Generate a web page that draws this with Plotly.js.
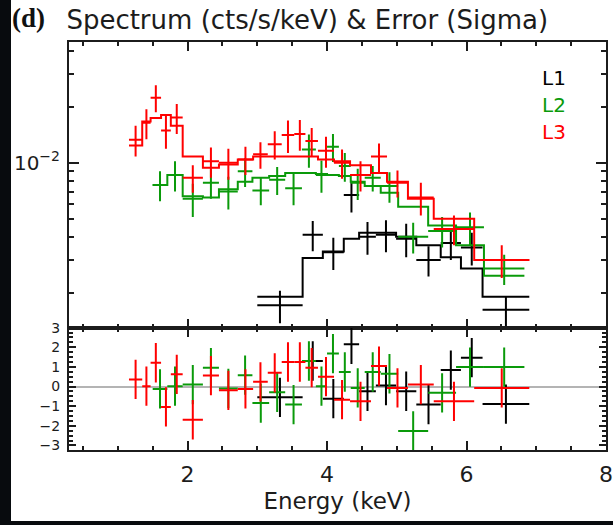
<!DOCTYPE html>
<html>
<head>
<meta charset="utf-8">
<script src="https://cdn.plot.ly/plotly-3.0.1.min.js"></script>
<style>
  html, body { margin: 0; padding: 0; width: 613px; height: 525px; overflow: hidden; background: #080b0e; }
  #chart { position: absolute; left: 11px; top: 0; width: 602px; height: 521px; background: #fff; }
</style>
</head>
<body>
<div id="chart"></div>
<script>
// ---- L1 spectrum (black): bin edges (keV), rate (cts/s/keV), 1-sigma error, model, residual (sigma)
const edgesL1 = [3.00, 3.65, 3.94, 4.24, 4.46, 4.70, 4.99, 5.28, 5.63, 5.92, 6.23, 6.90];
const rateL1  = [0.00171, 0.0041, 0.0033, 0.0067, 0.0040, 0.0041, 0.0039, 0.0030, 0.0037, 0.0035, 0.00162];
const errL1   = [0.00034, 0.00076, 0.00065, 0.0013, 0.0008, 0.0008, 0.0008, 0.00056, 0.0007, 0.0007, 0.0003];
const modelL1 = [0.0019, 0.00307, 0.00333, 0.0039, 0.0042, 0.0042, 0.0040, 0.0036, 0.0031, 0.0027, 0.0019];
const residL1 = [-0.55, 1.30, -0.62, 2.15, -0.24, 0.05, -0.24, -0.92, 0.84, 1.47, -0.89];

// ---- L2 spectrum (green)
const edgesL2 = [1.50, 1.71, 1.93, 2.22, 2.45, 2.72, 2.93, 3.17, 3.40, 3.64, 3.84, 4.00, 4.17, 4.34, 4.54, 4.77, 5.02, 5.45, 5.85, 6.25, 6.83];
const rateL2  = [0.0076, 0.0086, 0.0064, 0.0078, 0.0070, 0.0090, 0.0071, 0.0081, 0.0073, 0.0118, 0.0086, 0.0122, 0.0096, 0.0078, 0.0083, 0.0075, 0.0040, 0.0043, 0.0045, 0.0027];
const errL2   = [0.0014, 0.0016, 0.0013, 0.0014, 0.0014, 0.0016, 0.0012, 0.0014, 0.0014, 0.0024, 0.0017, 0.0021, 0.0017, 0.0015, 0.0013, 0.0014, 0.00075, 0.0008, 0.0009, 0.0005];
const modelL2 = [0.0076, 0.0086, 0.0066, 0.0065, 0.0072, 0.0079, 0.0083, 0.0085, 0.0088, 0.0088, 0.0087, 0.0086, 0.0085, 0.0079, 0.0075, 0.0069, 0.0058, 0.0046, 0.0036, 0.00247];
const residL2 = [-0.12, 0.02, 0.10, 0.96, -0.10, 0.58, -0.84, -0.29, -0.92, 1.30, 0.02, 1.68, 0.74, -0.07, 0.74, 0.65, -2.26, -0.32, 0.99, 0.99];

// ---- L3 spectrum (red)
const edgesL3 = [1.16, 1.35, 1.47, 1.62, 1.76, 1.93, 2.22, 2.45, 2.72, 2.94, 3.15, 3.35, 3.53, 3.69, 3.87, 4.10, 4.33, 4.63, 4.86, 5.16, 5.53, 6.11, 6.90];
const rateL3  = [0.0133, 0.0164, 0.0224, 0.0149, 0.0175, 0.0083, 0.0102, 0.0100, 0.0104, 0.0111, 0.0126, 0.0141, 0.0143, 0.0131, 0.0116, 0.0100, 0.0086, 0.0108, 0.0078, 0.0065, 0.0044, 0.0030];
const errL3   = [0.0025, 0.0030, 0.0037, 0.0030, 0.0032, 0.0014, 0.0019, 0.0019, 0.0018, 0.0018, 0.0022, 0.0028, 0.0027, 0.0023, 0.0022, 0.0018, 0.0016, 0.0019, 0.0013, 0.0013, 0.0008, 0.0006];
const modelL3 = [0.0124, 0.0167, 0.0174, 0.0181, 0.0158, 0.0108, 0.0094, 0.0098, 0.0104, 0.0108, 0.0108, 0.0108, 0.0108, 0.0108, 0.0104, 0.0102, 0.0097, 0.0088, 0.0079, 0.0064, 0.0050, 0.0030];
const residL3 = [0.36, 0.02, 1.21, -1.04, 0.62, -1.69, 0.56, -0.19, -0.12, 0.24, 0.70, 1.25, 1.25, 0.96, 0.50, -0.67, -0.75, 1.04, -0.07, 0.10, -0.75, -0.07];

const seriesNames = ['L1', 'L2', 'L3'];
const seriesColors = ['#000000', '#0a9a0a', '#ff0000'];

const spectra = [
  { edges: edgesL1, rate: rateL1, err: errL1, model: modelL1, resid: residL1 },
  { edges: edgesL2, rate: rateL2, err: errL2, model: modelL2, resid: residL2 },
  { edges: edgesL3, rate: rateL3, err: errL3, model: modelL3, resid: residL3 }
];

const FONT = 'DejaVu Sans, Verdana, sans-serif';
const INK = '#1c1c1c';

const traces = [];
spectra.forEach((s, k) => {
  const color = seriesColors[k];
  const centers = s.rate.map((_, i) => (s.edges[i] + s.edges[i + 1]) / 2);
  const halfW = s.rate.map((_, i) => (s.edges[i + 1] - s.edges[i]) / 2);
  // folded model as a histogram over the bins
  const sx = [], sy = [];
  s.model.forEach((m, i) => { sx.push(s.edges[i], s.edges[i + 1]); sy.push(m, m); });
  traces.push({
    x: sx, y: sy, xaxis: 'x', yaxis: 'y', mode: 'lines',
    line: { color: color, width: 2 }, hoverinfo: 'skip', showlegend: false
  });
  // data: crosses made of the energy-bin and 1-sigma error bars only
  traces.push({
    x: centers, y: s.rate, xaxis: 'x', yaxis: 'y', mode: 'markers',
    marker: { size: 4, color: color, opacity: 0 }, name: seriesNames[k], showlegend: false,
    error_x: { type: 'data', array: halfW, visible: true, width: 0, thickness: 2, color: color },
    error_y: { type: 'data', array: s.err, visible: true, width: 0, thickness: 2, color: color }
  });
  // residuals in units of sigma
  traces.push({
    x: centers, y: s.resid, xaxis: 'x2', yaxis: 'y2', mode: 'markers',
    marker: { size: 4, color: color, opacity: 0 }, showlegend: false,
    error_x: { type: 'data', array: halfW, visible: true, width: 0, thickness: 2, color: color },
    error_y: { type: 'constant', value: 1, visible: true, width: 0, thickness: 2, color: color }
  });
});

const axisLine = { showline: true, linecolor: INK, linewidth: 2, mirror: 'allticks', showgrid: false, zeroline: false };

const xCommon = Object.assign({}, axisLine, {
  range: [0.3, 8.0], tick0: 0, dtick: 2, ticks: 'inside', ticklen: 9, tickwidth: 2, tickcolor: INK,
  minor: { dtick: 0.5, ticks: 'inside', ticklen: 4, tickwidth: 2, tickcolor: INK }
});

const layout = {
  width: 602, height: 521,
  margin: { l: 58, r: 7, t: 42, b: 71 },
  paper_bgcolor: '#ffffff', plot_bgcolor: '#ffffff',
  font: { family: FONT, color: INK },
  showlegend: false,
  title: {
    text: 'Spectrum (cts/s/keV) & Error (Sigma)',
    font: { family: FONT, size: 26, color: INK },
    x: 0.092, xanchor: 'left', xref: 'container',
    y: 0.962, yanchor: 'middle', yref: 'container'
  },
  xaxis: Object.assign({}, xCommon, { domain: [0, 1], anchor: 'y', showticklabels: false }),
  xaxis2: Object.assign({}, xCommon, {
    domain: [0, 1], anchor: 'y2', matches: 'x', showticklabels: true,
    tickfont: { family: FONT, size: 22, color: INK }, ticklabelstandoff: 4,
    title: { text: 'Energy (keV)', font: { family: FONT, size: 23, color: INK }, standoff: 6 }
  }),
  yaxis: Object.assign({}, axisLine, {
    domain: [0.30, 1], anchor: 'x', type: 'log', range: [-2.887, -1.35],
    tickmode: 'array', tickvals: [0.01], ticktext: ['10<sup>\u22122</sup>'],
    ticks: 'inside', ticklen: 10, tickwidth: 2, tickcolor: INK,
    tickfont: { family: FONT, size: 20, color: INK }, ticklabelstandoff: 3,
    minor: {
      tickmode: 'array',
      tickvals: [0.002, 0.003, 0.004, 0.005, 0.006, 0.007, 0.008, 0.009, 0.02, 0.03, 0.04],
      ticks: 'inside', ticklen: 5, tickwidth: 2, tickcolor: INK
    }
  }),
  yaxis2: Object.assign({}, axisLine, {
    domain: [0, 0.30], anchor: 'x2', range: [-3.23, 3.0],
    tick0: 0, dtick: 1, ticks: 'inside', ticklen: 7, tickwidth: 2, tickcolor: INK,
    tickfont: { family: FONT, size: 14, color: INK }, ticklabelstandoff: 4,
    minor: { dtick: 0.25, ticks: 'inside', ticklen: 4, tickwidth: 1.5, tickcolor: INK },
    zeroline: true, zerolinecolor: '#b4b4b4', zerolinewidth: 1.5
  }),
  annotations: [
    { text: '<b>(d)</b>', xref: 'paper', yref: 'paper', x: -0.11, y: 1.059, xanchor: 'left', yanchor: 'middle',
      showarrow: false, font: { family: 'Liberation Serif, Times New Roman, serif', size: 27, color: '#111' } },
    { text: 'L1', xref: 'paper', yref: 'paper', x: 0.877, y: 0.912, xanchor: 'left', yanchor: 'middle',
      showarrow: false, font: { family: FONT, size: 20, color: seriesColors[0] } },
    { text: 'L2', xref: 'paper', yref: 'paper', x: 0.877, y: 0.846, xanchor: 'left', yanchor: 'middle',
      showarrow: false, font: { family: FONT, size: 20, color: seriesColors[1] } },
    { text: 'L3', xref: 'paper', yref: 'paper', x: 0.877, y: 0.779, xanchor: 'left', yanchor: 'middle',
      showarrow: false, font: { family: FONT, size: 20, color: seriesColors[2] } }
  ]
};

Plotly.newPlot('chart', traces, layout, { displayModeBar: false, responsive: false });
</script>
</body>
</html>
